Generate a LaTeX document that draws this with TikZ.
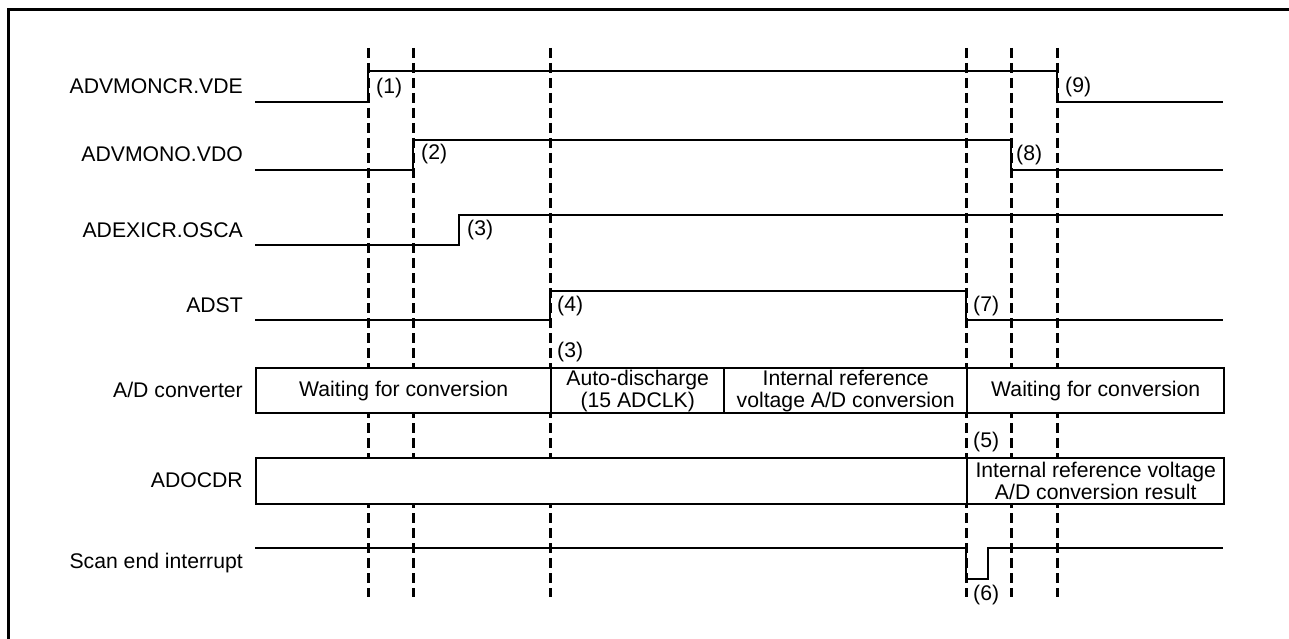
\documentclass[tikz,border=0pt]{standalone}
\usepackage{fontspec}
\setmainfont{Liberation Sans}
\begin{document}
\begin{tikzpicture}[x=1pt,y=-1pt,
  font=\fontsize{21.2}{22}\selectfont,
  sig/.style={line width=2pt, line join=miter},
  guide/.style={line width=3pt, dash pattern=on 10pt off 5pt},
  frameline/.style={line width=3pt},
  seg/.style={draw, line width=2.4pt, fill=white, inner sep=0pt, align=center, anchor=north west},
  lbl/.style={anchor=east, inner sep=0pt},
  num/.style={anchor=west, inner sep=0pt}]
\useasboundingbox (0,0) rectangle (1289,639);
% frame
\draw[frameline] (8,639) -- (8,10) -- (1289,10);
% guides
\foreach \x in {368,413,550,966,1011,1057}
  \draw[guide] (\x,48) -- (\x,597);
% signal labels
\node[lbl] (vde)  at (243,86)  {ADVMONCR.VDE};
\node[lbl] (vdo)  at (243,154) {ADVMONO.VDO};
\node[lbl] (osca) at (243,230) {ADEXICR.OSCA};
\node[lbl] (adst) at (243,305) {ADST};
\node[lbl] (adc)  at (243,390) {A/D converter};
\node[lbl] (adocdr) at (243,480) {ADOCDR};
\node[lbl] (scan) at (243,563) {Scan end interrupt};
% waveforms
\draw[sig] (255,102) -- (368,102) -- (368,71) -- (1057,71) -- (1057,102) -- (1223,102);
\draw[sig] (255,170) -- (413,170) -- (413,140) -- (1011,140) -- (1011,170) -- (1223,170);
\draw[sig] (255,245) -- (459,245) -- (459,215) -- (1223,215);
\draw[sig] (255,320) -- (550,320) -- (550,291) -- (966,291) -- (966,320) -- (1223,320);
\draw[sig] (255,548) -- (966,548) -- (966,579) -- (988,579) -- (988,548) -- (1223,548);
% A/D converter boxes
\node[seg, minimum width=295pt, minimum height=45pt] (w1) at (255,367) {Waiting for conversion};
\node[seg, minimum width=173pt, minimum height=45pt] (ad) at (550,367) {Auto-discharge\\(15 ADCLK)};
\node[seg, minimum width=243pt, minimum height=45pt] (ir) at (723,367) {Internal reference\\voltage A/D conversion};
\node[seg, minimum width=257pt, minimum height=45pt] (w2) at (966,367) {Waiting for conversion};
% ADOCDR boxes
\node[seg, minimum width=711pt, minimum height=46pt] (r1) at (255,457) {};
\node[seg, minimum width=257pt, minimum height=46pt] (r2) at (966,457) {Internal reference voltage\\A/D conversion result};
% numbers
\node[num] (n1) at (376,88) {(1)};
\node[num] (n2) at (421,154) {(2)};
\node[num] (n3) at (467,230) {(3)};
\node[num] (n4) at (557,306) {(4)};
\node[num] (n3b) at (557,352) {(3)};
\node[num] (n5) at (973,442) {(5)};
\node[num] (n6) at (973,595) {(6)};
\node[num] (n7) at (973,306) {(7)};
\node[num] (n8) at (1016,155) {(8)};
\node[num] (n9) at (1065,87) {(9)};
\end{tikzpicture}
\end{document}
